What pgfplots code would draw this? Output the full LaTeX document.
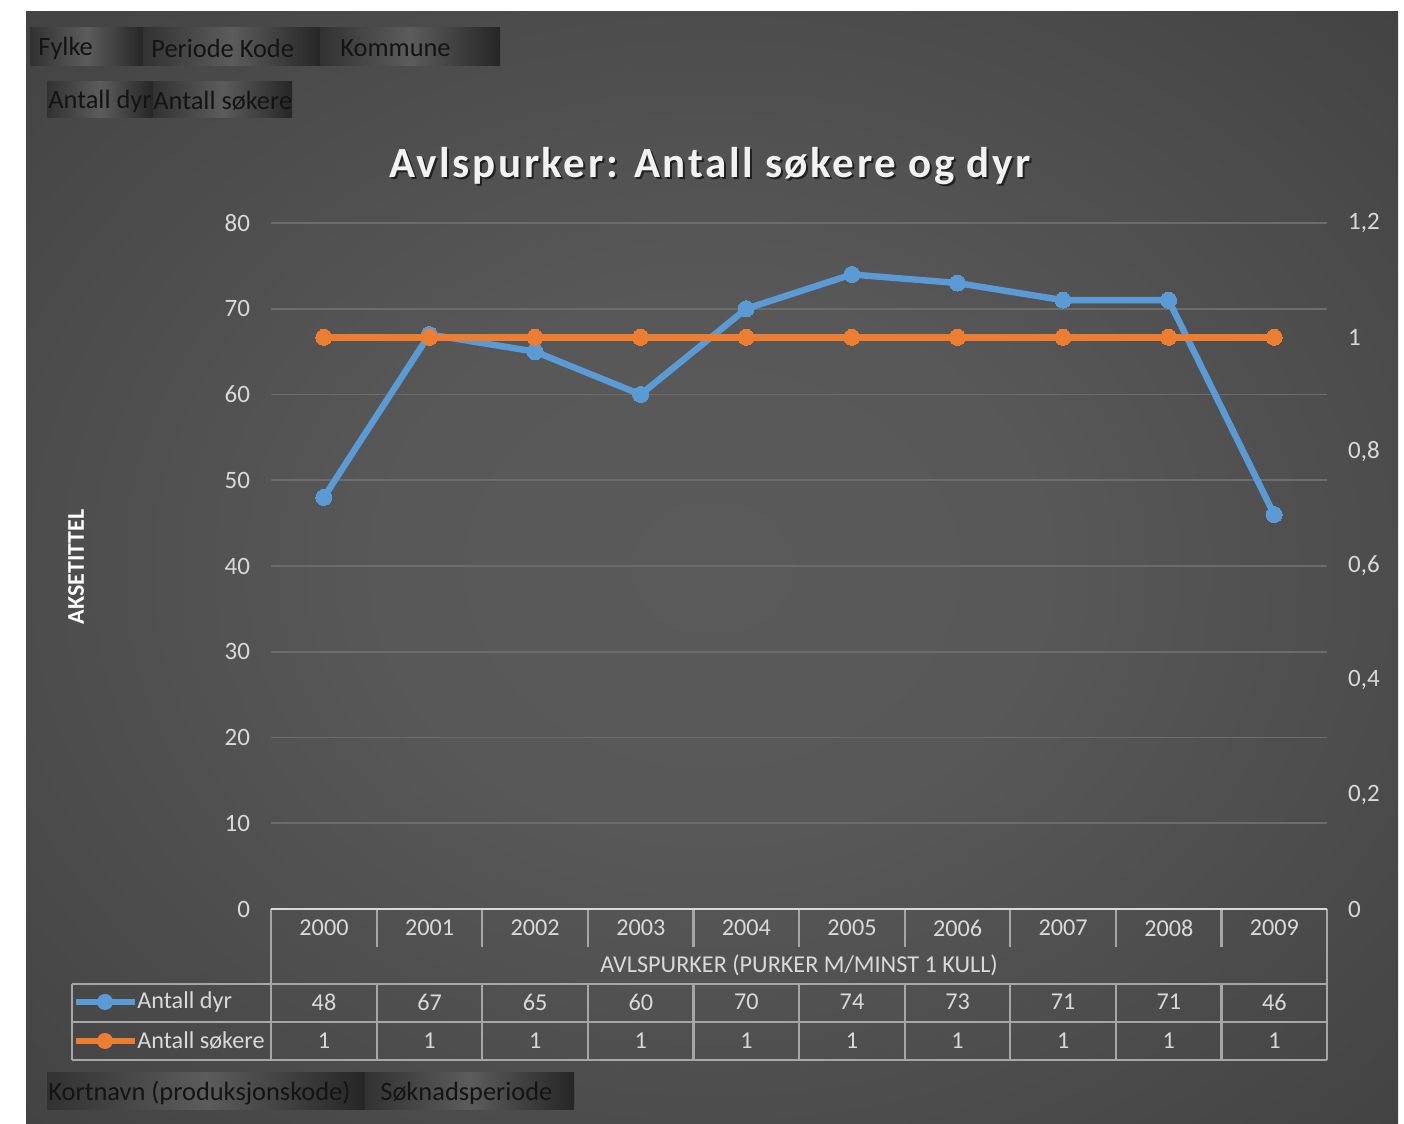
\documentclass[border=0pt]{standalone}
\usepackage{fontspec}
\setmainfont{Carlito}
\usepackage{pgfplots}
\pgfplotsset{compat=1.18}
\definecolor{ser1}{RGB}{91,155,213}
\definecolor{ser2}{RGB}{237,125,49}
\definecolor{tick}{RGB}{217,217,217}
\definecolor{tline}{RGB}{166,166,166}
\definecolor{gridc}{RGB}{108,108,108}
\definecolor{btnA}{RGB}{50,50,50}
\definecolor{btnB}{RGB}{92,92,92}
\definecolor{btnC}{RGB}{38,38,38}
\definecolor{btntext}{RGB}{20,20,20}
\definecolor{titlec}{RGB}{242,242,242}
\pgfdeclareradialshading{bgshade}{\pgfpoint{0bp}{0bp}}{%
  color(0bp)=(rgb,255:red,90;green,90;blue,90);
  color(12bp)=(rgb,255:red,88;green,88;blue,88);
  color(70bp)=(rgb,255:red,36;green,36;blue,36)}
\newcommand{\btn}[4]{% x1,y1(top),x2,y2(bottom) in px
  \shade[left color=btnA, right color=btnC, middle color=btnB] (#1,1124-#2) rectangle (#3,1124-#4);}
\begin{document}
\begin{tikzpicture}[x=0.5pt,y=0.5pt]
\fill[white] (0,0) rectangle (1404,1124);
\shade[shading=bgshade] (26,0) rectangle (1398,1112);
\coordinate (O) at (271,215);
% pivot buttons
\btn{30}{28}{143}{66}\btn{143}{28}{320}{66}\btn{320}{28}{500}{66}
\btn{47}{82}{153}{118}\btn{153}{82}{292}{118}
\btn{47}{1073}{365}{1110}\btn{365}{1073}{574}{1110}
\begin{scope}[every node/.style={font=\fontsize{13.2}{15}\selectfont, text=btntext, inner sep=0pt, anchor=west}]
\node at (38,1124-48) {Fylke};
\node at (151,1124-48) {Periode Kode};
\node at (340,1124-48) {Kommune};
\node at (48,1124-101) {Antall dyr};
\node at (153,1124-101) {Antall søkere};
\node at (48,1124-1093) {Kortnavn (produksjonskode)};
\node at (380,1124-1093) {Søknadsperiode};
\end{scope}
% title
\node[font=\fontsize{21.5}{24}\bfseries\addfontfeature{LetterSpace=6}\selectfont, text=black, opacity=0.6] at (712,1124-168) {Avlspurker: Antall søkere og dyr};
\node[font=\fontsize{21.5}{24}\bfseries\addfontfeature{LetterSpace=6}\selectfont, text=titlec] at (710,1124-166) {Avlspurker: Antall søkere og dyr};
% axis title
\node[rotate=90, font=\fontsize{12}{14}\bfseries\selectfont, text=white] at (76,1124-567) {AKSETITTEL};
\begin{axis}[
  name=main,
  at={(O)}, anchor=south west,
  scale only axis, width=528pt, height=343pt,
  xmin=-0.5, xmax=9.5, ymin=0, ymax=80,
  ytick={0,10,20,30,40,50,60,70,80},
  xtick=\empty,
  axis line style={draw=none},
  major tick length=0pt,
  ymajorgrids, grid style={draw=gridc, line width=0.8pt},
  yticklabel style={font=\fontsize{12.5}{14}\selectfont, text=tick, xshift=-7pt},
  /pgf/number format/assume math mode=true,
  clip=false,
]
\addplot[ser1, line width=3.2pt, mark=*, mark size=4pt, mark options={fill=ser1, draw=ser1, line width=0pt}] coordinates {
(0,48) (1,67) (2,65) (3,60) (4,70) (5,74) (6,73) (7,71) (8,71) (9,46)};
\end{axis}
\begin{axis}[
  at={(O)}, anchor=south west,
  scale only axis, width=528pt, height=343pt,
  xmin=-0.5, xmax=9.5, ymin=0, ymax=1.2,
  ytick={0,0.2,0.4,0.6,0.8,1,1.2},
  yticklabels={0,{0,2},{0,4},{0,6},{0,8},1,{1,2}},
  xtick=\empty,
  axis y line*=right, axis x line=none,
  axis line style={draw=none},
  major tick length=0pt,
  yticklabel style={font=\fontsize{12.5}{14}\selectfont, text=tick, xshift=7pt},
  clip=false,
]
\addplot[ser2, line width=3.2pt, mark=*, mark size=4pt, mark options={fill=ser2, draw=ser2, line width=0pt}] coordinates {
(0,1) (1,1) (2,1) (3,1) (4,1) (5,1) (6,1) (7,1) (8,1) (9,1)};
\end{axis}
% data table
\draw[tline, line width=1.1pt] (271,1124-909) -- (271,1124-1060);
\draw[tline, line width=1.1pt] (1327,1124-909) -- (1327,1124-1060);
\foreach \k in {1,...,9} {
  \draw[tline, line width=1.1pt] ({271+105.6*\k},1124-909) -- ({271+105.6*\k},1124-947);
  \draw[tline, line width=1.1pt] ({271+105.6*\k},1124-984) -- ({271+105.6*\k},1124-1060);
}
\draw[tline, line width=1.1pt] (72,1124-984) -- (1327,1124-984);
\draw[tline, line width=1.1pt] (72,1124-1022) -- (1327,1124-1022);
\draw[tline, line width=1.1pt] (72,1124-1060) -- (1327,1124-1060);
\draw[tline, line width=1.1pt] (72,1124-984) -- (72,1124-1060);
\draw[draw=tick, line width=1.3pt] (271,1124-909) -- (1327,1124-909);
\begin{scope}[every node/.style={font=\fontsize{12.1}{14}\selectfont, text=tick, inner sep=0pt}]
\foreach \y [count=\i from 0] in {2000,2001,2002,2003,2004,2005,2006,2007,2008,2009}
  \node at ({324+105.6*\i},1124-928) {\y};
\foreach \v [count=\i from 0] in {48,67,65,60,70,74,73,71,71,46}
  \node at ({324+105.6*\i},1124-1002) {\v};
\foreach \v [count=\i from 0] in {1,1,1,1,1,1,1,1,1,1}
  \node at ({324+105.6*\i},1124-1041) {\v};
\node at (799,1124-965) {AVLSPURKER (PURKER M/MINST 1 KULL)};
\node[anchor=west] at (137,1124-1002) {Antall dyr};
\node[anchor=west] at (137,1124-1041) {Antall søkere};
\end{scope}
\draw[ser1, line width=3.2pt] (76,1124-1002) -- (135,1124-1002);
\fill[ser1] (105,1124-1002) circle (4pt);
\draw[ser2, line width=3.2pt] (76,1124-1041) -- (135,1124-1041);
\fill[ser2] (105,1124-1041) circle (4pt);
\end{tikzpicture}
\end{document}
